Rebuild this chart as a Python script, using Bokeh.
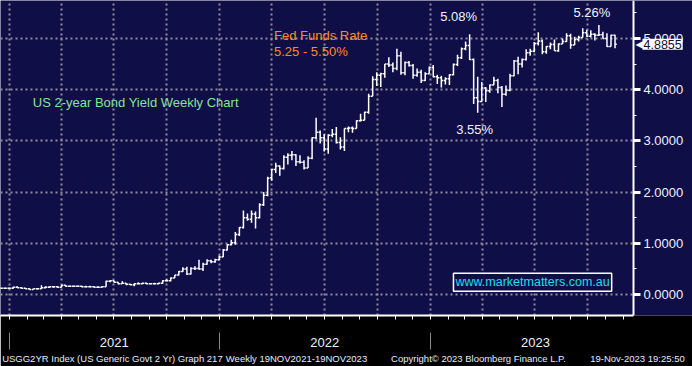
import pandas as pd
from datetime import datetime
from bokeh.plotting import figure
from bokeh.models import (Range1d, FixedTicker, LinearAxis, NumeralTickFormatter,
                          CustomJSTickFormatter, Label, ColumnDataSource)
from bokeh.embed import file_html
from bokeh.resources import INLINE

# ---------------- data (weekly OHLC, US 2y yield, %) ----------------
first_week = "2020-12-18"

opens = [
    0.12, 0.12, 0.12, 0.12, 0.14, 0.13, 0.12, 0.11, 0.10, 0.11, 0.11, 0.13, 0.14, 0.15, 0.15, 0.14,
    0.18, 0.16, 0.16, 0.16, 0.16, 0.15, 0.15, 0.15, 0.14, 0.14, 0.15, 0.26, 0.27, 0.24, 0.21, 0.22,
    0.20, 0.19, 0.21, 0.21, 0.22, 0.21, 0.21, 0.21, 0.22, 0.27, 0.27, 0.32, 0.38, 0.45, 0.50, 0.40,
    0.51, 0.51, 0.50, 0.59, 0.66, 0.64, 0.68, 0.73, 0.87, 0.97, 1.01, 1.17, 1.31, 1.50, 1.47, 1.57,
    1.50, 1.75, 1.94, 2.28, 2.44, 2.51, 2.46, 2.68, 2.72, 2.73, 2.59, 2.58, 2.47, 2.66, 3.06, 3.17,
    3.06, 2.84, 3.11, 3.13, 2.97, 2.88, 3.24, 3.25, 3.24, 3.39, 3.40, 3.56, 3.87, 4.20, 4.28, 4.31,
    4.50, 4.48, 4.41, 4.66, 4.33, 4.53, 4.47, 4.28, 4.34, 4.18, 4.31, 4.43, 4.25, 4.23, 4.18, 4.21,
    4.29, 4.49, 4.62, 4.80, 4.86, 4.59, 3.84, 3.77, 4.03, 3.98, 4.09, 4.18, 4.04, 3.91, 3.99, 4.27,
    4.56, 4.50, 4.59, 4.72, 4.75, 4.90, 4.95, 4.74, 4.84, 4.88, 4.76, 4.89, 4.94, 5.05, 4.87, 4.98,
    5.02, 5.11, 5.04, 5.08, 5.06, 5.07, 5.00, 4.84, 5.06,
]
highs = [
    0.13, 0.13, 0.13, 0.15, 0.16, 0.14, 0.13, 0.12, 0.11, 0.12, 0.18, 0.16, 0.16, 0.16, 0.16, 0.19,
    0.18, 0.17, 0.17, 0.17, 0.17, 0.17, 0.17, 0.16, 0.16, 0.16, 0.27, 0.28, 0.27, 0.24, 0.26, 0.22,
    0.21, 0.22, 0.24, 0.23, 0.23, 0.22, 0.23, 0.23, 0.28, 0.30, 0.33, 0.38, 0.46, 0.53, 0.54, 0.53,
    0.55, 0.68, 0.62, 0.69, 0.68, 0.70, 0.76, 0.89, 0.98, 1.07, 1.22, 1.32, 1.64, 1.58, 1.64, 1.62,
    1.78, 2.00, 2.30, 2.45, 2.57, 2.52, 2.72, 2.76, 2.80, 2.74, 2.72, 2.62, 2.70, 3.07, 3.45, 3.20,
    3.13, 3.13, 3.23, 3.27, 3.07, 3.24, 3.28, 3.28, 3.40, 3.53, 3.57, 3.92, 4.26, 4.34, 4.33, 4.50,
    4.63, 4.53, 4.80, 4.74, 4.55, 4.56, 4.50, 4.41, 4.39, 4.34, 4.45, 4.48, 4.29, 4.27, 4.24, 4.30,
    4.51, 4.68, 4.82, 4.94, 5.08, 4.61, 4.25, 4.15, 4.05, 4.10, 4.25, 4.21, 4.07, 4.08, 4.31, 4.58,
    4.64, 4.61, 4.79, 4.80, 4.93, 5.12, 4.98, 4.85, 4.92, 4.98, 4.90, 5.00, 5.10, 5.09, 5.03, 5.05,
    5.20, 5.17, 5.16, 5.10, 5.26, 5.13, 5.10, 5.07, 5.07,
]
lows = [
    0.11, 0.12, 0.11, 0.11, 0.13, 0.12, 0.11, 0.10, 0.10, 0.10, 0.11, 0.12, 0.13, 0.13, 0.13, 0.14,
    0.15, 0.15, 0.15, 0.15, 0.14, 0.14, 0.14, 0.14, 0.13, 0.14, 0.15, 0.24, 0.23, 0.20, 0.21, 0.18,
    0.18, 0.16, 0.20, 0.20, 0.20, 0.20, 0.20, 0.20, 0.21, 0.26, 0.26, 0.32, 0.37, 0.44, 0.38, 0.39,
    0.48, 0.49, 0.46, 0.58, 0.61, 0.62, 0.67, 0.73, 0.86, 0.96, 0.97, 1.14, 1.29, 1.44, 1.40, 1.29,
    1.49, 1.73, 1.92, 2.22, 2.37, 2.32, 2.44, 2.54, 2.62, 2.51, 2.56, 2.44, 2.47, 2.64, 3.03, 2.95,
    2.79, 2.75, 3.07, 2.95, 2.83, 2.80, 3.17, 3.16, 3.24, 3.38, 3.40, 3.53, 3.87, 4.07, 4.05, 4.23,
    4.44, 4.34, 4.38, 4.29, 4.28, 4.45, 4.21, 4.25, 4.13, 4.17, 4.31, 4.24, 4.11, 4.04, 4.10, 4.09,
    4.28, 4.46, 4.60, 4.77, 4.58, 3.72, 3.55, 3.76, 3.76, 3.94, 4.09, 3.93, 3.66, 3.88, 3.97, 4.26,
    4.30, 4.43, 4.57, 4.66, 4.73, 4.86, 4.69, 4.70, 4.79, 4.76, 4.74, 4.89, 4.93, 4.80, 4.87, 4.94,
    5.02, 5.03, 5.02, 4.96, 5.05, 5.00, 4.83, 4.84, 4.81,
]
closes = [
    0.12, 0.12, 0.12, 0.14, 0.13, 0.12, 0.11, 0.10, 0.11, 0.11, 0.13, 0.14, 0.15, 0.15, 0.14, 0.18,
    0.16, 0.16, 0.16, 0.16, 0.15, 0.15, 0.15, 0.14, 0.14, 0.15, 0.26, 0.27, 0.24, 0.21, 0.22, 0.20,
    0.19, 0.21, 0.21, 0.22, 0.21, 0.21, 0.21, 0.22, 0.27, 0.27, 0.32, 0.38, 0.45, 0.50, 0.40, 0.51,
    0.51, 0.50, 0.59, 0.66, 0.64, 0.68, 0.73, 0.87, 0.97, 1.01, 1.17, 1.31, 1.50, 1.47, 1.57, 1.50,
    1.75, 1.94, 2.27, 2.44, 2.51, 2.46, 2.68, 2.72, 2.73, 2.59, 2.58, 2.47, 2.66, 3.06, 3.17, 3.06,
    2.84, 3.11, 3.13, 2.97, 2.88, 3.24, 3.25, 3.24, 3.39, 3.40, 3.56, 3.87, 4.20, 4.28, 4.31, 4.50,
    4.48, 4.41, 4.66, 4.33, 4.53, 4.47, 4.28, 4.34, 4.18, 4.31, 4.43, 4.25, 4.23, 4.18, 4.21, 4.29,
    4.49, 4.62, 4.80, 4.86, 4.59, 3.84, 3.77, 4.03, 3.98, 4.09, 4.18, 4.04, 3.91, 3.99, 4.27, 4.56,
    4.50, 4.59, 4.72, 4.75, 4.90, 4.95, 4.74, 4.84, 4.88, 4.76, 4.89, 4.94, 5.05, 4.87, 4.98, 5.02,
    5.11, 5.04, 5.08, 5.06, 5.07, 5.00, 4.84, 5.06, 4.8855,
]

y_ticks = [0, 1, 2, 3, 4, 5]
y_minor_ticks = [0.5, 1.5, 2.5, 3.5, 4.5, 5.5]
year_labels = [2021, 2022, 2023]

title_text = "US 2-year Bond Yield Weekly Chart"
fed_line1 = "Fed Funds Rate"
fed_line2 = "5.25 - 5.50%"
site_text = "www.marketmatters.com.au"
footer_texts = ["USGG2YR Index (US Generic Govt 2 Yr) Graph 217",
                "Weekly 19NOV2021-19NOV2023",
                "Copyright\u00a9 2023 Bloomberg Finance L.P.",
                "19-Nov-2023 19:25:50"]

# ---------------- layout / styling ----------------
NAVY = "#0f0e47"
FONT = "Liberation Sans"
LABEL_WHITE = "#eef2ff"
GRID = "#8e8e9e"
W, H = 692, 366
AXIS_PX = 633                      # horizontal pixel where the value axis sits

x_start = pd.Timestamp("2020-12-17")
axis_date = pd.Timestamp("2023-12-19")
day_px = AXIS_PX / (axis_date - x_start).days
x_end = x_start + pd.Timedelta(days=W / day_px)

def to_ms(ts):
    return pd.Timestamp(ts).timestamp() * 1000.0

def px_to_ms(px):
    return to_ms(x_start + pd.Timedelta(days=px / day_px))

week_dates = pd.date_range(first_week, periods=len(closes), freq="7D")
tick_half = pd.Timedelta(days=3)

p = figure(width=W, height=H, output_backend="svg", toolbar_location=None,
           x_axis_type="datetime", y_axis_location="right",
           x_range=Range1d(x_start, x_end), y_range=Range1d(-0.41, 5.74),
           background_fill_color=NAVY, border_fill_color="black",
           min_border_left=0, min_border_top=0, min_border_right=0,
           min_border_bottom=0)
p.outline_line_color = None

# grids
quarter_starts = pd.date_range("2021-01-01", "2023-10-01", freq="QS")
y_ticker = FixedTicker(ticks=y_ticks, minor_ticks=y_minor_ticks)
p.xgrid.ticker = FixedTicker(ticks=[to_ms(t) for t in quarter_starts])
p.ygrid.ticker = y_ticker
p.ygrid.cross_bounds = (to_ms(x_start), to_ms(axis_date))
for g in (p.xgrid[0], p.ygrid[0]):
    g.grid_line_color = GRID
    g.grid_line_width = 2
    g.grid_line_dash = "2 3"

# OHLC bars
src = ColumnDataSource(dict(d=week_dates, dl=week_dates - tick_half,
                            dr=week_dates + tick_half,
                            o=opens, h=highs, l=lows, c=closes))
p.segment("d", "l", "d", "h", source=src, line_color="white", line_width=1.5)
p.segment("dl", "o", "d", "o", source=src, line_color="white", line_width=1.5)
p.segment("d", "c", "dr", "c", source=src, line_color="white", line_width=1.5)

# bottom axis: monthly ticks + year labels
month_starts = pd.date_range("2021-01-01", "2023-12-01", freq="MS")
mid_years = [to_ms(f"{y}-07-02") for y in year_labels]
year_starts = [to_ms(f"{y}-01-01") for y in year_labels]
xa = p.xaxis[0]
xa.ticker = FixedTicker(ticks=mid_years, minor_ticks=[to_ms(t) for t in month_starts])
xa.formatter = CustomJSTickFormatter(code="return String(new Date(tick).getUTCFullYear());")
xa.bounds = (x_start, axis_date)
xa.axis_line_color = "white"
xa.axis_line_width = 2
xa.major_tick_out = 0
xa.major_tick_in = 0
xa.major_tick_line_color = None
xa.minor_tick_out = 4
xa.minor_tick_in = 0
xa.minor_tick_line_color = "white"
xa.major_label_text_color = LABEL_WHITE
xa.major_label_text_font = FONT
xa.major_label_text_font_size = "13px"
xa.major_label_standoff = 18

# footer line as a label-only axis, year separators as its minor ticks
footer_ax = LinearAxis(
    ticker=FixedTicker(ticks=[px_to_ms(v) for v in (112, 296, 478, 637)],
                       minor_ticks=year_starts),
    formatter=CustomJSTickFormatter(args=dict(labels=footer_texts),
                                    code="return labels[index];"))
footer_ax.axis_line_color = None
footer_ax.major_tick_line_color = None
footer_ax.major_tick_out = 0
footer_ax.major_tick_in = 0
footer_ax.minor_tick_in = 17
footer_ax.minor_tick_out = 0
footer_ax.minor_tick_line_color = "#8a8a8a"
footer_ax.minor_tick_line_width = 1
footer_ax.major_label_text_color = "#e6ecff"
footer_ax.major_label_text_font = FONT
footer_ax.major_label_text_font_size = "9.5px"
footer_ax.major_label_standoff = 3
p.add_layout(footer_ax, "below")

# right value axis, drawn at a fixed date inside the frame
ra = p.yaxis[0]
ra.fixed_location = to_ms(axis_date)
ra.ticker = y_ticker
ra.formatter = NumeralTickFormatter(format="0.0000")
ra.axis_line_color = "white"
ra.axis_line_width = 2
ra.major_tick_out = 7
ra.major_tick_in = 0
ra.major_tick_line_color = "white"
ra.major_tick_line_width = 3
ra.minor_tick_out = 3
ra.minor_tick_in = 0
ra.minor_tick_line_color = "white"
ra.major_label_text_color = LABEL_WHITE
ra.major_label_text_font = FONT
ra.major_label_text_font_size = "13px"
ra.major_label_standoff = 3

# annotations tied to data extremes
i_peak1 = max(range(110, 120), key=lambda i: highs[i])
i_low = min(range(110, 125), key=lambda i: lows[i])
i_peak2 = max(range(len(highs)), key=lambda i: highs[i])

p.add_layout(Label(x=week_dates[i_peak1], y=highs[i_peak1], text=f"{highs[i_peak1]:.2f}%",
                   text_align="center", text_baseline="bottom", x_offset=-11, y_offset=10,
                   text_color=LABEL_WHITE, text_font=FONT, text_font_size="13px"))
p.add_layout(Label(x=week_dates[i_peak2], y=highs[i_peak2], text=f"{highs[i_peak2]:.2f}%",
                   text_align="center", text_baseline="bottom", x_offset=-7, y_offset=5,
                   text_color=LABEL_WHITE, text_font=FONT, text_font_size="13px"))
p.add_layout(Label(x=week_dates[i_low], y=lows[i_low], text=f"{lows[i_low]:.2f}%",
                   text_align="center", text_baseline="top", x_offset=-3, y_offset=-9,
                   text_color=LABEL_WHITE, text_font=FONT, text_font_size="13px"))

p.add_layout(Label(x=datetime(2022, 4, 5), y=5.21, text=fed_line1,
                   text_align="left", text_baseline="top",
                   text_color="#ff8a1f", text_font=FONT, text_font_size="13px"))
p.add_layout(Label(x=datetime(2022, 4, 5), y=4.90, text=fed_line2,
                   text_align="left", text_baseline="top",
                   text_color="#ff8a1f", text_font=FONT, text_font_size="13px"))
p.add_layout(Label(x=datetime(2021, 2, 11), y=3.89, text=title_text,
                   text_align="left", text_baseline="top",
                   text_color="#86e39a", text_font=FONT, text_font_size="13px"))

p.add_layout(Label(x=datetime(2023, 2, 10), y=0.24, text=site_text,
                   text_align="left", text_baseline="middle",
                   text_color="#22ddee", text_font=FONT, text_font_size="12.5px",
                   background_fill_color=NAVY, border_line_color="white",
                   border_line_width=1.5, padding=2))

# last price tag on the value axis
p.add_layout(Label(x=axis_date, y=closes[-1], text="\u25c0",
                   text_align="left", text_baseline="middle", x_offset=2,
                   text_color="white", text_font="DejaVu Sans", text_font_size="12px"))
p.add_layout(Label(x=axis_date, y=closes[-1], text=f"{closes[-1]:.4f}",
                   text_align="left", text_baseline="middle", x_offset=9,
                   text_color="#101030", text_font=FONT, text_font_size="12.5px",
                   background_fill_color="white", padding=1))

open("out.html", "w").write(file_html(p, INLINE))
